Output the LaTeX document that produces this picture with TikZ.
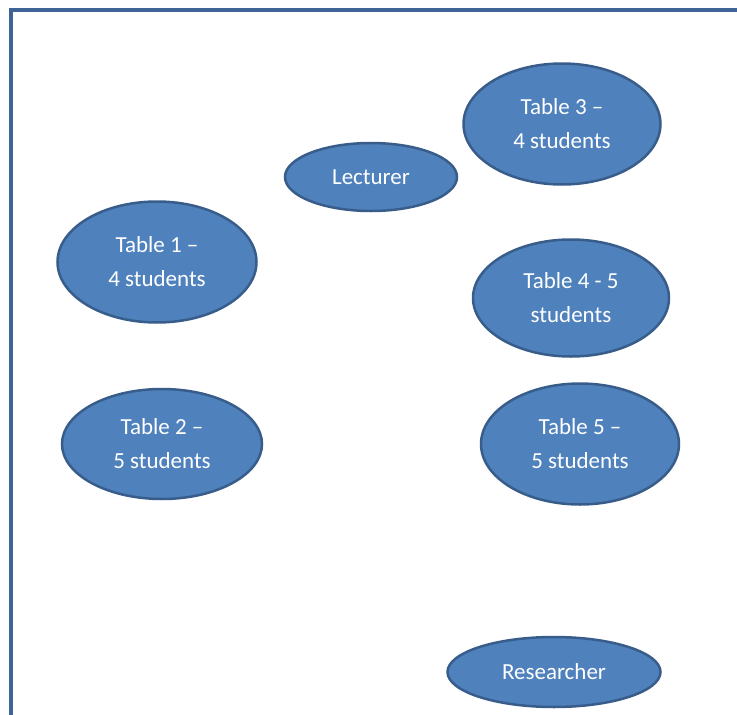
\documentclass[tikz,border=0pt]{standalone}
\usepackage{fontspec}
\setmainfont{Carlito}
\usetikzlibrary{shapes.geometric}
\definecolor{ellfill}{HTML}{4F81BD}
\definecolor{elldraw}{HTML}{385D8A}
\definecolor{framec}{HTML}{3F6397}
\tikzset{
  blob/.style={ellipse, draw=elldraw, fill=ellfill, line width=2.5pt, inner sep=0pt,
    text=white, align=center, font=\fontsize{23}{34}\selectfont},
}
\begin{document}
\begin{tikzpicture}[x=1pt,y=-1pt]
\useasboundingbox (0,0) rectangle (737,715);
\coordinate (fbl) at (11,715);
\coordinate (ftl) at (11,10);
\coordinate (ftr) at (737,10);
\draw[framec, line width=4pt] (fbl) -- (ftl) -- (ftr);
\node[blob, minimum width=172pt, minimum height=68pt] (lect) at (371,177) {Lecturer};
\node[blob, minimum width=197pt, minimum height=121pt] (t3) at (562,124) {Table 3 –\\4 students};
\node[blob, minimum width=199pt, minimum height=121pt] (t1) at (157,262) {Table 1 –\\4 students};
\node[blob, minimum width=196pt, minimum height=117pt] (t4) at (571,298) {Table 4 - 5\\students};
\node[blob, minimum width=200pt, minimum height=110pt] (t2) at (162,444) {Table 2 –\\5 students};
\node[blob, minimum width=198pt, minimum height=121pt] (t5) at (580,444) {Table 5 –\\5 students};
\node[blob, minimum width=213pt, minimum height=70pt] (res) at (554,672) {Researcher};
\end{tikzpicture}
\end{document}
